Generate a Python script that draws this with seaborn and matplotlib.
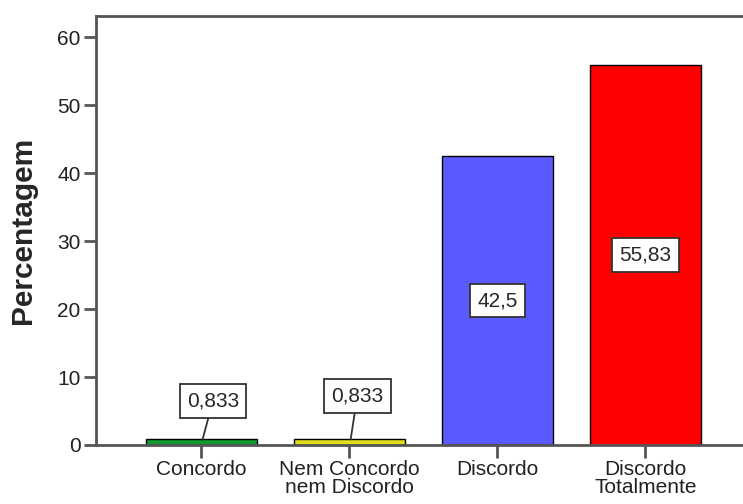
import matplotlib
matplotlib.use("Agg")
import matplotlib.pyplot as plt
import seaborn as sns
import pandas as pd

categories = ["Concordo", "Nem Concordo\nnem Discordo", "Discordo", "Discordo\nTotalmente"]
values = [0.833, 0.833, 42.5, 55.83]
value_labels = ["0,833", "0,833", "42,5", "55,83"]
colors = ["#109a30", "#e2dc1a", "#5a5aff", "#ff0000"]
yticks = [0, 10, 20, 30, 40, 50, 60]

sns.set_style("white")
plt.rcParams['font.family'] = ['Liberation Sans', 'DejaVu Sans']

df = pd.DataFrame({"cat": categories, "val": values})

fig = plt.figure(figsize=(7.43, 5.04), dpi=100)
ax = fig.add_axes([96/743, 1 - 445/504, 1 - 96/743 + 0.002, (445 - 16)/504])

sns.barplot(data=df, x="cat", y="val", hue="cat", palette=colors, legend=False,
            width=0.75, edgecolor="black", linewidth=1.0, ax=ax, saturation=1)

ax.set_xlim(-0.71, 3.67)
ax.set_ylim(0, 63.1)
ax.set_yticks(yticks)
ax.set_yticklabels([str(t) for t in yticks], fontsize=15, color="#222222")
ax.set_xticks(range(len(categories)))
ax.set_xticklabels(categories, fontsize=15, color="#222222", linespacing=0.9)
ax.set_xlabel("")
ax.set_ylabel("Percentagem", fontsize=21.5, fontweight="bold", labelpad=15)

for s in ax.spines.values():
    s.set_color("#555555")
    s.set_linewidth(2)
ax.tick_params(axis="both", direction="out", length=9, width=2, color="#555555", pad=2)
ax.tick_params(axis="both", left=True, bottom=True)

bbox = dict(boxstyle="square,pad=0.35", fc="white", ec="#333333", lw=1.3)
label_y_small = [6.5, 7.2]
label_dx = [0.08, 0.055]
for i, (v, lab) in enumerate(zip(values, value_labels)):
    if v > 5:
        ax.text(i, v / 2, lab, ha="center", va="center", fontsize=15, bbox=bbox)
    else:
        ax.annotate(lab, xy=(i + 0.01, v), xytext=(i + label_dx[i], label_y_small[i]),
                    ha="center", va="center", fontsize=15, bbox=bbox,
                    arrowprops=dict(arrowstyle="-", color="#333333", lw=1.3, shrinkA=0, shrinkB=0))

fig.savefig("out.png", dpi=100)
